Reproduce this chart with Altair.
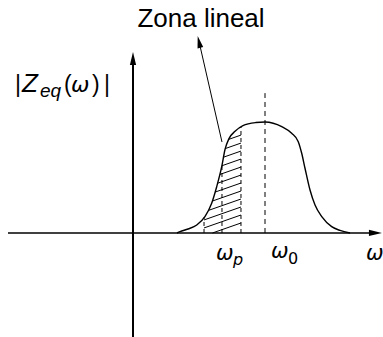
import math
import numpy as np
import pandas as pd
import altair as alt

# Impedance magnitude |Zeq(w)| versus frequency (normalised so w0 = 1, peak = 1)
omega = [0.333, 0.356, 0.417, 0.483, 0.545, 0.596, 0.634, 0.672, 0.697, 0.727,
         0.773, 0.833, 0.930, 1.000, 1.127, 1.202, 1.252, 1.278, 1.303, 1.341,
         1.379, 1.430, 1.505, 1.568, 1.644]
zmag = [0.000, 0.012, 0.036, 0.072, 0.147, 0.268, 0.417, 0.597, 0.752, 0.850,
        0.916, 0.968, 0.995, 1.000, 0.958, 0.898, 0.823, 0.718, 0.583, 0.387,
        0.252, 0.147, 0.057, 0.023, 0.000]

# Key frequencies
w0 = 1.0
wp = 0.674
linear_zone = [0.538, 0.818]   # hatched "zona lineal" band

# Canvas and scale set-up
W, H = 383, 337
XDOM = [-1.0076, 1.8939]
YDOM = [-0.937, 2.099]
PX_X = W / (XDOM[1] - XDOM[0])
PX_Y = H / (YDOM[1] - YDOM[0])


def X(field):
    return alt.X(field, type="quantitative", axis=None,
                 scale=alt.Scale(domain=XDOM, nice=False, zero=False))


def Y(field):
    return alt.Y(field, type="quantitative", axis=None,
                 scale=alt.Scale(domain=YDOM, nice=False, zero=False))


curve_df = pd.DataFrame({"w": omega, "z": zmag})


def zf(x):
    return np.interp(x, omega, zmag)


# Hatch lines: parallel segments clipped to the area under the curve in the band
slope = 0.416
step = 0.072
xl, xr = linear_zone
xx = np.linspace(xl, xr, 600)
segs = []
c = 0.09
while c <= zf(xr) + 1e-9:
    yl = c + slope * (xx - xr)
    ok = (yl >= 0) & (yl <= zf(xx))
    if ok.any():
        xa, xb = float(xx[ok].min()), float(xx[ok].max())
        segs.append({"x": xa, "y": c + slope * (xa - xr),
                     "x2": xb, "y2": c + slope * (xb - xr)})
    c += step
hatch_df = pd.DataFrame(segs)

# Dashed guide lines
guide_df = pd.DataFrame({"x": [xl, wp, xr], "y": [0.0, 0.0, 0.0],
                         "y2": [float(zf(xl)), float(zf(wp)), float(zf(xr))]})
w0_df = pd.DataFrame({"x": [w0], "y": [0.0], "y2": [1.26]})

# Axes lines
xaxis_df = pd.DataFrame({"x": [-0.947], "x2": [1.80], "y": [0.0]})
yaxis_df = pd.DataFrame({"x": [0.0], "y": [-0.95], "y2": [1.55]})

# Annotation arrow pointing at the linear zone
ann_from = (0.674, 0.820)
ann_to = (0.490, 1.775)
ann_df = pd.DataFrame({"x": [ann_from[0]], "y": [ann_from[1]],
                       "x2": [ann_to[0] + 0.01], "y2": [ann_to[1] - 0.05]})
dxp = (ann_to[0] - ann_from[0]) * PX_X
dyp = -(ann_to[1] - ann_from[1]) * PX_Y
ann_angle = math.degrees(math.atan2(dxp, -dyp)) % 360

ARROW = "M0,0L0.36,1.5L-0.36,1.5Z"


def head(x, y, ang, size):
    return alt.Chart(pd.DataFrame({"x": [x], "y": [y]})).mark_point(
        shape=ARROW, filled=True, color="black", opacity=1, angle=ang, size=size
    ).encode(x=X("x"), y=Y("y"))


heads = [head(0.0, 1.63, 0, 300), head(1.886, 0.0, 90, 300),
         head(ann_to[0], ann_to[1], ann_angle, 260)]

curve = alt.Chart(curve_df).mark_line(color="black", strokeWidth=1.4, interpolate="monotone").encode(
    x=X("w"), y=Y("z"))

hatch = alt.Chart(hatch_df).mark_rule(color="black", strokeWidth=1).encode(
    x=X("x"), y=Y("y"), x2="x2:Q", y2="y2:Q")

guides = alt.Chart(guide_df).mark_rule(color="black", strokeWidth=1, strokeDash=[4, 3]).encode(
    x=X("x"), y=Y("y"), y2="y2:Q")

w0_line = alt.Chart(w0_df).mark_rule(color="black", strokeWidth=1, strokeDash=[5, 4]).encode(
    x=X("x"), y=Y("y"), y2="y2:Q")

xaxis = alt.Chart(xaxis_df).mark_rule(color="black", strokeWidth=1.5).encode(
    x=X("x"), x2="x2:Q", y=Y("y"))

yaxis = alt.Chart(yaxis_df).mark_rule(color="black", strokeWidth=2).encode(
    x=X("x"), y=Y("y"), y2="y2:Q")

ann = alt.Chart(ann_df).mark_rule(color="black", strokeWidth=1).encode(
    x=X("x"), y=Y("y"), x2="x2:Q", y2="y2:Q")


def label(txt, x, y, size, italic=False, font="Liberation Sans", align="left"):
    return alt.Chart(pd.DataFrame({"t": [txt]})).mark_text(
        font=font, fontSize=size, fontStyle="italic" if italic else "normal",
        align=align, baseline="alphabetic", color="black").encode(
        text="t:N", x=alt.value(x), y=alt.value(y))


texts = [
    label("Zona lineal", 201, 27, 26, align="center"),
    # |Z_eq(w)| built piece by piece
    label("|", 15, 92, 23),
    label("Z", 22, 92, 26, italic=True),
    label("eq", 40, 97, 19, italic=True),
    label("(", 64, 92, 23),
    label("\u03c9", 71, 92, 22, italic=True, font="DejaVu Sans"),
    label(")", 92, 92, 23),
    label("|", 104, 92, 23),
    # frequency labels
    label("\u03c9", 216, 260, 21, italic=True, font="DejaVu Sans"),
    label("p", 233, 265, 16, italic=True, font="DejaVu Sans"),
    label("\u03c9", 271, 258, 21, italic=True, font="DejaVu Sans"),
    label("0", 288, 264, 16, font="DejaVu Sans"),
    label("\u03c9", 366, 260, 21, italic=True, font="DejaVu Sans"),
]

chart = alt.layer(hatch, guides, w0_line, xaxis, yaxis, curve, ann, *heads, *texts).properties(
    width=W, height=H, autosize=alt.AutoSizeParams(type="none"), padding=0
).configure_view(stroke=None)

chart.save("out.html", embed_options={"renderer": "svg", "actions": False})
